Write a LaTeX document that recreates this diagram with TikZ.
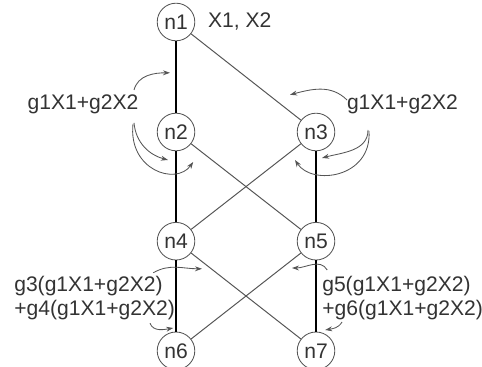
\documentclass[tikz,border=0pt]{standalone}
\usepackage{fontspec}
\setmainfont{Liberation Sans}
\usetikzlibrary{arrows.meta}
\definecolor{inkgray}{HTML}{333333}
\definecolor{linegray}{HTML}{555555}
\begin{document}
\begin{tikzpicture}[
        font=\fontsize{15}{17}\selectfont, text=inkgray,
        neuron/.style={circle, draw=linegray, line width=0.6pt, minimum size=0.94cm, inner sep=0pt},
        vedge/.style={black, line width=1.1pt},
        dedge/.style={linegray, line width=0.7pt},
        curlyarrow/.style={->, >={Stealth[length=5pt, width=3.5pt]}, linegray, line width=0.6pt}
    ]
        \useasboundingbox (0,0) rectangle (12.05,9.15);

        % Nodes
        \node[neuron] (n1) at (4.4,8.6) {n1};
        \node[neuron] (n2) at (4.4,5.85) {n2};
        \node[neuron] (n3) at (7.9,5.85) {n3};
        \node[neuron] (n4) at (4.4,3.12) {n4};
        \node[neuron] (n5) at (7.9,3.12) {n5};
        \node[neuron] (n6) at (4.4,0.38) {n6};
        \node[neuron] (n7) at (7.9,0.38) {n7};

        % Edges
        \draw[vedge] (n1) -- (n2);
        \draw[vedge] (n2) -- (n4);
        \draw[vedge] (n3) -- (n5);
        \draw[vedge] (n4) -- (n6);
        \draw[vedge] (n5) -- (n7);
        \draw[dedge] (n1) -- (n3);
        \draw[dedge] (n2) -- (n5);
        \draw[dedge] (n3) -- (n4);
        \draw[dedge] (n4) -- (n7);
        \draw[dedge] (n5) -- (n6);

        % Labels
        \node[anchor=base west] (inputs) at (5.08,8.45) {X1, X2};
        \node[anchor=base] (sumL) at (2.075,6.4) {g1X1+g2X2};
        \node[anchor=base] (sumR) at (10.06,6.4) {g1X1+g2X2};
        \node[anchor=west, align=left, inner sep=0pt] (mixL) at (0.35,1.7) {g3(g1X1+g2X2)\\+g4(g1X1+g2X2)};
        \node[anchor=west, align=left, inner sep=0pt] (mixR) at (8.05,1.7) {g5(g1X1+g2X2)\\+g6(g1X1+g2X2)};

        % Arrow ends
        \coordinate (a1s) at (3.35,6.9);    \coordinate (a1e) at (4.25,7.33);
        \coordinate (a2s) at (3.35,6.08);   \coordinate (a2e) at (4.2,5.15);
        \coordinate (a3s) at (3.325,6.05);  \coordinate (a3e) at (4.83,5.1);
        \coordinate (a4s) at (8.675,6.65);  \coordinate (a4e) at (7.25,6.78);
        \coordinate (a5s) at (9.2,5.9);     \coordinate (a5e) at (8.05,5.2);
        \coordinate (a6s) at (9.225,5.875); \coordinate (a6e) at (7.375,5.15);
        \coordinate (a7s) at (3.83,2.33);   \coordinate (a7e) at (5.05,2.43);
        \coordinate (a8s) at (3.75,1.07);   \coordinate (a8e) at (4.33,0.95);
        \coordinate (a9s) at (8.18,2.4);    \coordinate (a9e) at (7.3,2.45);
        \coordinate (a10s) at (8.55,1.1);   \coordinate (a10e) at (8.13,0.9);

        % Arrows
        \draw[curlyarrow] (a1s) to[out=75, in=180] (a1e);
        \draw[curlyarrow] (a2s) to[out=-85, in=165] (a2e);
        \draw[curlyarrow] (a3s) .. controls (3.2,4.9) and (4.4,4.5) .. (a3e);
        \draw[curlyarrow] (a4s) to[out=135, in=15] (a4e);
        \draw[curlyarrow] (a5s) to[out=-90, in=15] (a5e);
        \draw[curlyarrow] (a6s) .. controls (9.3,4.7) and (7.8,4.5) .. (a6e);
        \draw[curlyarrow] (a7s) to[out=30, in=180] (a7e);
        \draw[curlyarrow] (a8s) to[out=-70, in=190] (a8e);
        \draw[curlyarrow] (a9s) to[out=120, in=0] (a9e);
        \draw[curlyarrow] (a10s) to[out=-120, in=10] (a10e);
    \end{tikzpicture}
\end{document}
